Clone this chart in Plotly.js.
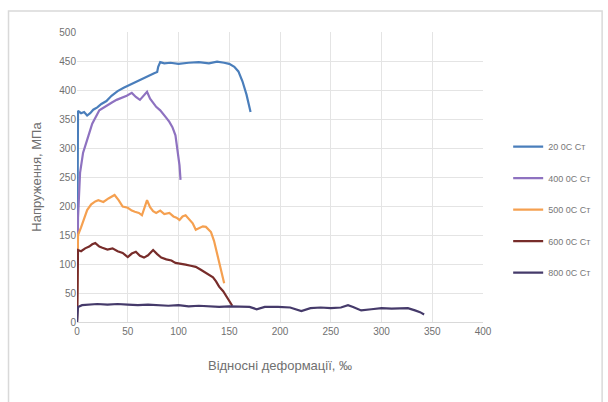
<!DOCTYPE html>
<html>
<head>
<meta charset="utf-8">
<script src="https://cdn.plot.ly/plotly-3.0.1.min.js"></script>
<style>html,body{margin:0;padding:0;background:#fff;}#chart{width:608px;height:402px;}</style>
</head>
<body>
<div id="chart"></div>
<script>
// Series names
const seriesNames = ["20 0С Ст", "400 0С Ст", "500 0С Ст", "600 0С Ст", "800 0С Ст"];
const seriesColors = ["#4A7EBB", "#8E72C0", "#F5A050", "#772C2A", "#453A6A"];

// 20 °C
const x20 = [0, 0.5, 1, 4, 7, 10, 13, 16, 20, 24, 29, 34, 40, 46, 52, 58, 64, 70, 76, 79, 80, 82, 86, 92, 100, 110, 120, 130, 138, 145, 150, 155, 159, 163, 167, 171];
const y20 = [0, 200, 364, 360, 362, 356, 360, 366, 370, 376, 381, 390, 398, 404, 409, 415, 420, 425, 429, 431, 440, 448, 446, 447, 445, 447, 448, 446, 449, 447, 445, 440, 432, 415, 392, 362];

// 400 °C
const x400 = [0, 1, 3, 6, 10, 15, 22, 28, 34, 39, 44, 49, 54, 58, 62, 66, 69, 72, 75, 78, 82, 86, 88, 91, 94, 97, 99, 101, 102];
const y400 = [0, 180, 257, 292, 314, 342, 365, 372, 378, 383, 386, 390, 395, 388, 383, 390, 397, 385, 378, 371, 365, 357, 352, 345, 336, 322, 297, 270, 245];

// 500 °C
const x500 = [0, 0.5, 1, 4, 7, 10, 14, 18, 21, 26, 31, 37, 41, 45, 50, 54, 57, 61, 64, 67, 69, 72, 75, 78, 82, 86, 91, 95, 98, 101, 104, 107, 110, 114, 117, 121, 124, 127, 130, 132, 135, 138, 141, 143, 145];
const y500 = [0, 100, 150, 163, 178, 193, 203, 208, 210, 207, 213, 219, 210, 199, 197, 192, 190, 188, 184, 200, 210, 198, 191, 188, 192, 186, 188, 182, 180, 176, 182, 184, 178, 170, 159, 162, 165, 164, 159, 155, 140, 119, 100, 82, 67];

// 600 °C
const x600 = [0, 0.5, 1, 4, 8, 12, 15, 18, 22, 25, 30, 35, 40, 45, 50, 54, 58, 62, 66, 70, 75, 79, 83, 88, 93, 97, 102, 107, 112, 117, 122, 126, 130, 134, 137, 140, 144, 148, 151, 153];
const y600 = [0, 90, 124, 122, 127, 130, 134, 136, 130, 128, 125, 127, 122, 119, 112, 118, 121, 114, 111, 115, 124, 117, 111, 108, 106, 102, 101, 99, 97, 95, 90, 86, 81, 77, 70, 61, 53, 42, 34, 28];

// 800 °C
const x800 = [0, 0.5, 1, 5, 10, 20, 30, 40, 50, 60, 70, 80, 90, 100, 110, 120, 130, 140, 150, 160, 170, 177, 185, 198, 210, 221, 230, 240, 250, 260, 267, 272, 280, 290, 300, 310, 320, 326, 333, 338, 342];
const y800 = [0, 15, 26, 29, 30, 31, 30, 31, 30, 29, 30, 29, 28, 29, 27, 28, 27, 26, 27, 26, 26, 22, 26, 26, 25, 19, 24, 25, 24, 25, 29, 26, 20, 22, 24, 23, 23, 24, 20, 17, 13];

const xs = [x20, x400, x500, x600, x800];
const ys = [y20, y400, y500, y600, y800];

const traces = xs.map((x, i) => ({
  x: x, y: ys[i], type: "scatter", mode: "lines", name: seriesNames[i],
  legendgroup: "g" + i,
  line: {color: seriesColors[i], width: 2.2}
}));

const gridColor = "#e4e4e4";
const layout = {
  width: 608, height: 402,
  margin: {l: 77, r: 122, t: 32, b: 80},
  paper_bgcolor: "#fff", plot_bgcolor: "#fff",
  font: {family: "Liberation Sans Narrow, Liberation Sans, sans-serif", color: "#707070", size: 10},
  showlegend: true,
  legend: {
    x: 1.062, y: 0.655, xanchor: "left", yanchor: "top",
    traceorder: "grouped", tracegroupgap: 12.5,
    font: {size: 9, color: "#777"},
    itemwidth: 30, bgcolor: "rgba(0,0,0,0)"
  },
  xaxis: {
    range: [0, 400], dtick: 50, tick0: 0,
    showgrid: true, gridcolor: gridColor, gridwidth: 1,
    zeroline: false, showline: true, linecolor: "#d9d9d9",
    ticks: "", tickfont: {size: 10, color: "#707070"},
    title: {text: "Відносні деформації, ‰", font: {size: 13, color: "#707070"}, standoff: 24}
  },
  yaxis: {
    range: [0, 500], dtick: 50, tick0: 0,
    showgrid: true, gridcolor: gridColor, gridwidth: 1,
    zeroline: false, showline: false,
    ticks: "", tickfont: {size: 10, color: "#707070"},
    title: {text: "Напруження, МПа", font: {size: 13, color: "#707070"}, standoff: 14}
  },
  shapes: [{
    type: "rect", xref: "paper", yref: "paper",
    x0: (8 - 77) / 409, x1: (606 - 77) / 409,
    y0: (322 - 410) / 290, y1: (322 - 11) / 290,
    line: {color: "#d9d9d9", width: 1.5}, fillcolor: "rgba(0,0,0,0)", layer: "below"
  }]
};

Plotly.newPlot("chart", traces, layout, {displayModeBar: false, staticPlot: true});
</script>
</body>
</html>
